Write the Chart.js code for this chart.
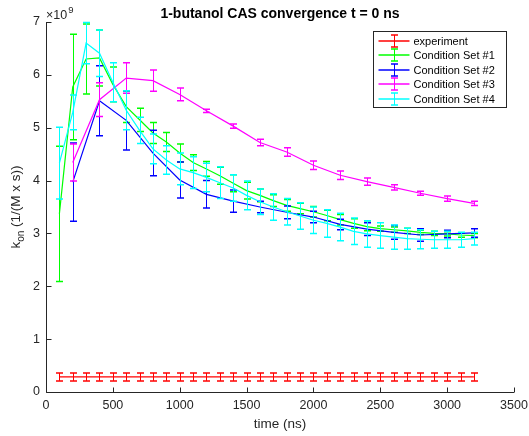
<!DOCTYPE html>
<html>
<head>
<meta charset="utf-8">
<script src="https://cdn.jsdelivr.net/npm/chart.js@4.4.1/dist/chart.umd.min.js"></script>
<style>
html, body { margin: 0; padding: 0; background: #fff; }
#wrap { width: 529px; height: 436px; }
</style>
</head>
<body>
<div id="wrap"><canvas id="chart_area" width="529" height="436"></canvas></div>
<script>
// time points (ns)
const timeEvery100 = [100, 200, 300, 400, 500, 600, 700, 800, 900, 1000, 1100, 1200, 1300, 1400, 1500, 1600,
  1700, 1800, 1900, 2000, 2100, 2200, 2300, 2400, 2500, 2600, 2700, 2800, 2900, 3000, 3100, 3200];
const timeEvery200 = [200, 400, 600, 800, 1000, 1200, 1400, 1600, 1800, 2000, 2200, 2400, 2600, 2800, 3000, 3200];

// k_on values, in units of 1e9 1/(M x s)
const expKon = [0.285, 0.285, 0.285, 0.285, 0.285, 0.285, 0.285, 0.285, 0.285, 0.285, 0.285, 0.285, 0.285, 0.285, 0.285, 0.285,
  0.285, 0.285, 0.285, 0.285, 0.285, 0.285, 0.285, 0.285, 0.285, 0.285, 0.285, 0.285, 0.285, 0.285, 0.285, 0.285];
const expErr = [0.075, 0.075, 0.075, 0.075, 0.075, 0.075, 0.075, 0.075, 0.075, 0.075, 0.075, 0.075, 0.075, 0.075, 0.075, 0.075,
  0.075, 0.075, 0.075, 0.075, 0.075, 0.075, 0.075, 0.075, 0.075, 0.075, 0.075, 0.075, 0.075, 0.075, 0.075, 0.075];

const set1Kon = [3.37, 5.77, 6.30, 6.32, 5.82, 5.40, 5.15, 4.90, 4.73, 4.52, 4.34, 4.22, 4.09, 3.95, 3.81, 3.72,
  3.62, 3.53, 3.47, 3.41, 3.34, 3.26, 3.19, 3.13, 3.09, 3.07, 3.05, 3.02, 3.00, 2.99, 2.97, 2.96];
const set1Err = [1.28, 1.00, 0.66, 0.53, 0.33, 0.30, 0.22, 0.20, 0.18, 0.17, 0.15, 0.14, 0.16, 0.16, 0.16, 0.12,
  0.11, 0.11, 0.10, 0.10, 0.10, 0.10, 0.09, 0.08, 0.05, 0.05, 0.05, 0.04, 0.04, 0.04, 0.04, 0.04];

const set2Kon = [3.97, 5.51, 5.14, 4.52, 4.01, 3.74, 3.61, 3.50, 3.40, 3.31, 3.17, 3.08, 3.02, 2.97, 2.99, 3.01];
const set2Err = [0.74, 0.66, 0.56, 0.43, 0.34, 0.26, 0.21, 0.11, 0.12, 0.11, 0.10, 0.12, 0.13, 0.12, 0.07, 0.08];

const set3Kon = [4.34, 5.53, 5.94, 5.89, 5.63, 5.32, 5.03, 4.72, 4.54, 4.29, 4.10, 3.98, 3.87, 3.76, 3.66, 3.57];
const set3Err = [0.35, 0.32, 0.29, 0.20, 0.12, 0.03, 0.04, 0.06, 0.08, 0.08, 0.08, 0.07, 0.05, 0.04, 0.05, 0.04];

const set4Kon = [4.33, 5.29, 6.60, 6.41, 5.86, 5.33, 4.95, 4.60, 4.39, 4.22, 4.15, 4.06, 3.96, 3.86, 3.72, 3.60,
  3.50, 3.41, 3.33, 3.25, 3.19, 3.12, 3.04, 2.99, 2.96, 2.93, 2.90, 2.89, 2.88, 2.88, 2.88, 2.90];
const set4Err = [0.68, 0.33, 0.39, 0.44, 0.37, 0.37, 0.25, 0.28, 0.27, 0.30, 0.30, 0.27, 0.30, 0.25, 0.27, 0.24,
  0.25, 0.25, 0.25, 0.25, 0.26, 0.26, 0.25, 0.25, 0.24, 0.23, 0.20, 0.18, 0.16, 0.16, 0.14, 0.12];

const seriesNames = ['experiment', 'Condition Set #1', 'Condition Set #2', 'Condition Set #3', 'Condition Set #4'];
const seriesColors = ['#ff0000', '#00ff00', '#0000ff', '#ff00ff', '#00ffff'];

const FONT = "'Liberation Sans', Arial, Helvetica, sans-serif";
const AXIS_COLOR = '#262626';

const toPoints = (times, vals) => times.map((t, i) => ({ x: t, y: vals[i] }));

function makeDataset(idx, times, vals, errs) {
  return {
    label: seriesNames[idx],
    data: toPoints(times, vals),
    errors: errs,
    borderColor: seriesColors[idx],
    backgroundColor: seriesColors[idx],
    borderWidth: 1.2,
    pointRadius: 0,
    tension: 0,
    fill: false,
    order: 5 - idx, // later series drawn on top, like matlab
  };
}

// error bars drawn right after each line so stacking order is kept
const errorBarPlugin = {
  id: 'errorBars',
  afterDatasetDraw(chart, args) {
    const ds = chart.data.datasets[args.index];
    const xs = chart.scales.x, ys = chart.scales.y;
    const ctx = chart.ctx;
    ctx.save();
    ctx.strokeStyle = ds.borderColor;
    ds.data.forEach((p, i) => {
      const e = ds.errors[i];
      const px = Math.round(xs.getPixelForValue(p.x)) + 0.5;
      const top = ys.getPixelForValue(p.y + e);
      const bot = ys.getPixelForValue(p.y - e);
      ctx.lineWidth = 1;
      ctx.beginPath();
      ctx.moveTo(px, top); ctx.lineTo(px, bot);
      ctx.stroke();
      ctx.lineWidth = 1.5;
      ctx.beginPath();
      ctx.moveTo(px - 3.5, top); ctx.lineTo(px + 3.5, top);
      ctx.moveTo(px - 3.5, bot); ctx.lineTo(px + 3.5, bot);
      ctx.stroke();
    });
    ctx.restore();
  }
};

// axes lines with inward ticks, labels, title and legend
const decorPlugin = {
  id: 'decor',
  afterDraw(chart) {
    const ctx = chart.ctx;
    const area = chart.chartArea;
    const xs = chart.scales.x, ys = chart.scales.y;
    const L = Math.round(area.left) + 0.5, B = Math.round(area.bottom) + 0.5;
    ctx.save();

    // axes
    ctx.strokeStyle = AXIS_COLOR;
    ctx.lineWidth = 1;
    ctx.beginPath();
    ctx.moveTo(L, area.top); ctx.lineTo(L, B);
    ctx.lineTo(area.right, B);
    xs.ticks.forEach(t => {
      const px = Math.round(xs.getPixelForValue(t.value)) + 0.5;
      ctx.moveTo(px, B); ctx.lineTo(px, B - 5);
    });
    ys.ticks.forEach(t => {
      const py = Math.round(ys.getPixelForValue(t.value)) + 0.5;
      ctx.moveTo(L, py); ctx.lineTo(L + 5, py);
    });
    ctx.stroke();

    // title
    const cx = (area.left + area.right) / 2;
    ctx.fillStyle = '#000';
    ctx.font = 'bold 14px ' + FONT;
    ctx.textAlign = 'center';
    ctx.textBaseline = 'alphabetic';
    ctx.fillText('1-butanol CAS convergence t = 0 ns', cx, 17.5);

    // x label
    ctx.fillStyle = AXIS_COLOR;
    ctx.font = '13.5px ' + FONT;
    ctx.fillText('time (ns)', cx, 428);

    // exponent
    ctx.textAlign = 'left';
    ctx.font = '12.5px ' + FONT;
    ctx.fillText('\u00d710', area.left, 18.5);
    const w = ctx.measureText('\u00d710').width;
    ctx.font = '9.5px ' + FONT;
    ctx.fillText('9', area.left + w + 1, 13);

    // y label with subscript
    ctx.save();
    ctx.translate(20, (area.top + area.bottom) / 2);
    ctx.rotate(-Math.PI / 2);
    const p1 = 'k', p3 = ' (1/(M x s))';
    ctx.font = '13.5px ' + FONT;
    const w1 = ctx.measureText(p1).width;
    const w3 = ctx.measureText(p3).width;
    ctx.font = '10px ' + FONT;
    const w2 = ctx.measureText('on').width;
    const sx = -(w1 + w2 + w3) / 2;
    ctx.font = '13.5px ' + FONT;
    ctx.fillText(p1, sx, 0);
    ctx.font = '10px ' + FONT;
    ctx.fillText('on', sx + w1, 3.5);
    ctx.font = '13.5px ' + FONT;
    ctx.fillText(p3, sx + w1 + w2, 0);
    ctx.restore();

    // legend
    const bx = Math.round(area.right - 141) + 0.5, by = Math.round(area.top + 9) + 0.5;
    const bw = 133, bh = 76;
    ctx.fillStyle = '#fff';
    ctx.fillRect(bx, by, bw, bh);
    ctx.strokeStyle = AXIS_COLOR;
    ctx.lineWidth = 1;
    ctx.strokeRect(bx, by, bw, bh);
    ctx.font = '11px ' + FONT;
    ctx.textBaseline = 'middle';
    seriesNames.forEach((name, i) => {
      const ly = Math.round(by + 9 + i * 14.5);
      const x0 = bx + 5, x1 = bx + 36, xm = Math.round((x0 + x1) / 2) + 0.5;
      ctx.strokeStyle = seriesColors[i];
      ctx.lineWidth = 1.5;
      ctx.beginPath();
      ctx.moveTo(x0, ly); ctx.lineTo(x1, ly);
      ctx.stroke();
      ctx.lineWidth = 1;
      ctx.beginPath();
      ctx.moveTo(xm, ly - 6); ctx.lineTo(xm, ly + 6);
      ctx.stroke();
      ctx.lineWidth = 1.5;
      ctx.beginPath();
      ctx.moveTo(xm - 3.5, ly - 6); ctx.lineTo(xm + 3.5, ly - 6);
      ctx.moveTo(xm - 3.5, ly + 6); ctx.lineTo(xm + 3.5, ly + 6);
      ctx.stroke();
      ctx.fillStyle = '#000';
      ctx.fillText(name, bx + 40, ly + 0.5);
    });
    ctx.restore();
  }
};

const ctx = document.getElementById('chart_area').getContext('2d');
const chart = new Chart(ctx, {
  type: 'line',
  data: {
    datasets: [
      makeDataset(0, timeEvery100, expKon, expErr),
      makeDataset(1, timeEvery100, set1Kon, set1Err),
      makeDataset(2, timeEvery200, set2Kon, set2Err),
      makeDataset(3, timeEvery200, set3Kon, set3Err),
      makeDataset(4, timeEvery100, set4Kon, set4Err),
    ]
  },
  options: {
    responsive: false,
    animation: false,
    devicePixelRatio: 1,
    layout: { padding: { top: 22, right: 15, left: 0, bottom: 0 } },
    plugins: {
      legend: { display: false },
      title: { display: false },
      tooltip: { enabled: false },
    },
    scales: {
      x: {
        type: 'linear',
        min: 0, max: 3500,
        grid: { display: false, drawTicks: false },
        border: { display: false },
        ticks: {
          stepSize: 500, padding: 6, color: AXIS_COLOR, maxRotation: 0,
          font: { family: FONT, size: 12.5 },
          callback: (v) => String(v),
        },
        afterFit(scale) {
          scale.height = 44;
          scale.paddingLeft = 0;
          scale.paddingRight = 0;
        },
      },
      y: {
        type: 'linear',
        min: 0, max: 7,
        grid: { display: false, drawTicks: false },
        border: { display: false },
        ticks: {
          stepSize: 1, padding: 6, color: AXIS_COLOR,
          font: { family: FONT, size: 12.5 },
          callback: (v) => String(v),
        },
        afterFit(scale) {
          scale.width = 46;
          scale.paddingTop = 0;
          scale.paddingBottom = 0;
        },
      }
    }
  },
  plugins: [errorBarPlugin, decorPlugin]
});
</script>
</body>
</html>
